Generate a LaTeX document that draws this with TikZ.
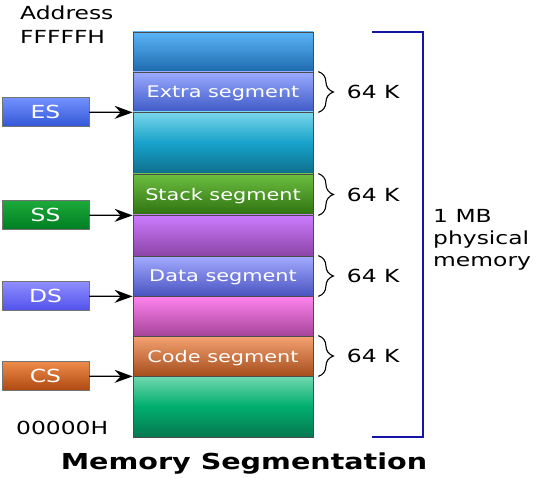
\documentclass[tikz,border=0pt]{standalone}
\usepackage{fontspec}
\setmainfont[FakeStretch=1.3]{DejaVu Sans}
\usepackage{tikz}
\usetikzlibrary{arrows.meta,decorations.pathreplacing}

\definecolor{topA}{HTML}{5AB4F6}
\definecolor{topB}{HTML}{1D6AAE}
\definecolor{extraA}{HTML}{9AAAFF}
\definecolor{extraB}{HTML}{3E5AC6}
\definecolor{cyanA}{HTML}{7AD6EA}
\definecolor{cyanM}{HTML}{16A2CA}
\definecolor{cyanB}{HTML}{0F6E8C}
\definecolor{stackA}{HTML}{6CBF40}
\definecolor{stackB}{HTML}{2E7210}
\definecolor{purA}{HTML}{CC7CFF}
\definecolor{purB}{HTML}{8C44A6}
\definecolor{dataA}{HTML}{A2AAFF}
\definecolor{dataB}{HTML}{4A54C0}
\definecolor{pinkA}{HTML}{FF84EE}
\definecolor{pinkB}{HTML}{A6449A}
\definecolor{codeA}{HTML}{F6A272}
\definecolor{codeB}{HTML}{A64E1C}
\definecolor{grnA}{HTML}{72D8B0}
\definecolor{grnM}{HTML}{00AE6E}
\definecolor{grnB}{HTML}{067850}
\definecolor{esA}{HTML}{7492FF}
\definecolor{esB}{HTML}{3256D6}
\definecolor{ssA}{HTML}{1CAA3A}
\definecolor{ssB}{HTML}{007E22}
\definecolor{dsA}{HTML}{8E8EFF}
\definecolor{dsB}{HTML}{5252EC}
\definecolor{csA}{HTML}{EE8C4A}
\definecolor{csB}{HTML}{AE4810}
\definecolor{memblue}{HTML}{1414A8}

\begin{document}
\begin{tikzpicture}[x=1pt,y=-1pt,
    seg/.style={draw=black!70, line width=0.8pt, minimum width=180pt, inner sep=0pt,
        text=white, font=\fontsize{16}{18}\selectfont, text depth=0pt},
    reg/.style={draw=black!55, line width=0.6pt, minimum width=87pt, minimum height=29pt,
        inner sep=0pt, text=white, font=\fontsize{18}{22}\selectfont},
    lbl/.style={font=\fontsize{18}{24}\selectfont, inner sep=0pt},
    brc/.style={decorate, decoration={brace, amplitude=15pt}, line width=1.1pt},
    arr/.style={-{Stealth[length=18pt, width=13pt, inset=6pt]}, line width=1.3pt}]
    \useasboundingbox (0,0) rectangle (540,478);

    % memory column
    \node[seg, minimum height=40pt, top color=topA, bottom color=topB] (blk1) at (223,52) {};
    \node[seg, minimum height=40pt, top color=extraA, bottom color=extraB] (extra) at (223,92) {Extra segment};
    \node[seg, minimum height=62pt, top color=cyanA, bottom color=cyanB, middle color=cyanM] (blk2) at (223,143) {};
    \node[seg, minimum height=41pt, top color=stackA, bottom color=stackB] (stack) at (223,194.5) {Stack segment};
    \node[seg, minimum height=41pt, top color=purA, bottom color=purB] (blk3) at (223,235.5) {};
    \node[seg, minimum height=40pt, top color=dataA, bottom color=dataB] (data) at (223,276) {Data segment};
    \node[seg, minimum height=40pt, top color=pinkA, bottom color=pinkB] (blk4) at (223,316) {};
    \node[seg, minimum height=40pt, top color=codeA, bottom color=codeB] (code) at (223,356) {Code segment};
    \node[seg, minimum height=61pt, top color=grnA, bottom color=grnB, middle color=grnM] (blk5) at (223,406.5) {};

    % segment registers
    \node[reg, top color=esA, bottom color=esB] (es) at (45.5,112) {ES};
    \node[reg, top color=ssA, bottom color=ssB] (ss) at (45.5,215) {SS};
    \node[reg, top color=dsA, bottom color=dsB] (ds) at (45.5,296) {DS};
    \node[reg, top color=csA, bottom color=csB] (cs) at (45.5,376) {CS};

    \draw[arr] (es) -- (extra.south west);
    \draw[arr] (ss) -- (stack.south west);
    \draw[arr] (ds) -- (data.south west);
    \draw[arr] (cs) -- (code.south west);

    \draw[brc] ([xshift=5pt]extra.north east) -- node[lbl, anchor=west, xshift=28pt] (kes) {64 K} ([xshift=5pt]extra.south east);
    \draw[brc] ([xshift=5pt]stack.north east) -- node[lbl, anchor=west, xshift=28pt] (kss) {64 K} ([xshift=5pt]stack.south east);
    \draw[brc] ([xshift=5pt]data.north east) -- node[lbl, anchor=west, xshift=28pt] (kds) {64 K} ([xshift=5pt]data.south east);
    \draw[brc] ([xshift=5pt]code.north east) -- node[lbl, anchor=west, xshift=28pt] (kcs) {64 K} ([xshift=5pt]code.south east);

    % whole memory
    \coordinate (mtop) at (372,32);
    \coordinate (mbot) at (372,437);
    \draw[memblue, line width=2.5pt] (mtop) -- ++(51,0) |- (mbot);
    \node[lbl, anchor=north west, align=left, font=\fontsize{18}{22}\selectfont] (mem) at (433,209) {1 MB\\physical\\memory};

    \node[lbl, anchor=north west, align=left] (addr) at (20,6) {Address\\FFFFFH};
    \node[lbl, anchor=base west] (low) at (16,434) {00000H};
    \node[lbl, anchor=base, font=\bfseries\fontsize{22}{26}\selectfont] (title) at (244,469) {Memory Segmentation};
\end{tikzpicture}
\end{document}
